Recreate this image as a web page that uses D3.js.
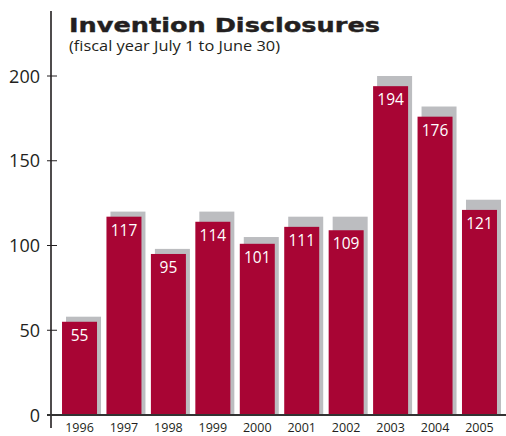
<!DOCTYPE html>
<html>
<head>
<meta charset="utf-8">
<script src="https://cdn.jsdelivr.net/npm/d3@7"></script>
<style>
  body { margin: 0; background: #fff; }
  svg { display: block; font-family: "Open Sans", "Noto Sans", sans-serif; }
</style>
</head>
<body>
<div id="chart-area"></div>
<script>
// data
const years = ["1996", "1997", "1998", "1999", "2000", "2001", "2002", "2003", "2004", "2005"];
const disclosures = [55, 117, 95, 114, 101, 111, 109, 194, 176, 121];
// grey bars drawn behind (offset shadow), heights as seen in the picture
const shadowValues = [58, 120, 98, 120, 105, 117, 117, 200, 182, 127];
const yTicks = [0, 50, 100, 150, 200];

const WIDTH = 506;
const HEIGHT = 436;
const RED = "#a80534";
const GREY = "#bcbdc0";
const INK = "#231f20";

const svg = d3.select("#chart-area").append("svg")
  .attr("width", WIDTH)
  .attr("height", HEIGHT);

// scales
const x = d3.scaleBand()
  .domain(years)
  .range([57.3, 501.7])
  .paddingInner(0.2125)
  .paddingOuter(0.10625);

const y = d3.scaleLinear()
  .domain([0, 200])
  .range([415, 76]);

const data = years.map((yr, i) => ({ year: yr, value: disclosures[i], shadow: shadowValues[i] }));

// shadow bars
svg.append("g").selectAll("rect")
  .data(data)
  .enter().append("rect")
    .attr("x", d => x(d.year) + 4)
    .attr("y", d => y(d.shadow))
    .attr("width", x.bandwidth())
    .attr("height", d => y(0) - y(d.shadow))
    .attr("fill", GREY);

// main bars
svg.append("g").selectAll("rect")
  .data(data)
  .enter().append("rect")
    .attr("x", d => x(d.year))
    .attr("y", d => y(d.value))
    .attr("width", x.bandwidth())
    .attr("height", d => y(0) - y(d.value))
    .attr("fill", RED);

// value labels inside the bars
svg.append("g").selectAll("text")
  .data(data)
  .enter().append("text")
    .attr("x", d => x(d.year) + x.bandwidth() / 2)
    .attr("y", d => y(d.value) + 19)
    .attr("text-anchor", "middle")
    .attr("font-size", "15.5px")
    .attr("fill", "#fff")
    .text(d => d.value);

// y axis
const yAxis = svg.append("g");
yAxis.append("line")
  .attr("x1", 51).attr("x2", 51)
  .attr("y1", 11).attr("y2", 428)
  .attr("stroke", INK)
  .attr("stroke-width", 1.6);

yAxis.selectAll(".tick")
  .data(yTicks.filter(t => t > 0))
  .enter().append("line")
    .attr("x1", 47).attr("x2", 57)
    .attr("y1", d => y(d)).attr("y2", d => y(d))
    .attr("stroke", INK)
    .attr("stroke-width", 1);

yAxis.selectAll("text")
  .data(yTicks)
  .enter().append("text")
    .attr("x", 40)
    .attr("y", d => y(d) + 6.5)
    .attr("text-anchor", "end")
    .attr("font-size", "18px")
    .attr("fill", INK)
    .text(d => d);

// baseline
svg.append("line")
  .attr("x1", 47).attr("x2", WIDTH)
  .attr("y1", y(0)).attr("y2", y(0))
  .attr("stroke", "#333")
  .attr("stroke-width", 2.2);

// year labels
svg.append("g").selectAll("text")
  .data(years)
  .enter().append("text")
    .attr("x", d => x(d) + x.bandwidth() / 2)
    .attr("y", 432)
    .attr("text-anchor", "middle")
    .attr("font-size", "12.5px")
    .attr("fill", INK)
    .text(d => d);

// title
svg.append("text")
  .attr("x", 69)
  .attr("y", 32)
  .attr("font-family", "'DejaVu Sans', sans-serif")
  .attr("font-weight", "bold")
  .attr("font-size", "20px")
  .attr("textLength", 311)
  .attr("lengthAdjust", "spacingAndGlyphs")
  .attr("fill", INK)
  .attr("stroke", INK)
  .attr("stroke-width", 0.4)
  .text("Invention Disclosures");

svg.append("text")
  .attr("x", 69)
  .attr("y", 51)
  .attr("font-size", "14.5px")
  .attr("textLength", 211)
  .attr("lengthAdjust", "spacingAndGlyphs")
  .attr("fill", INK)
  .text("(fiscal year July 1 to June 30)");
</script>
</body>
</html>
